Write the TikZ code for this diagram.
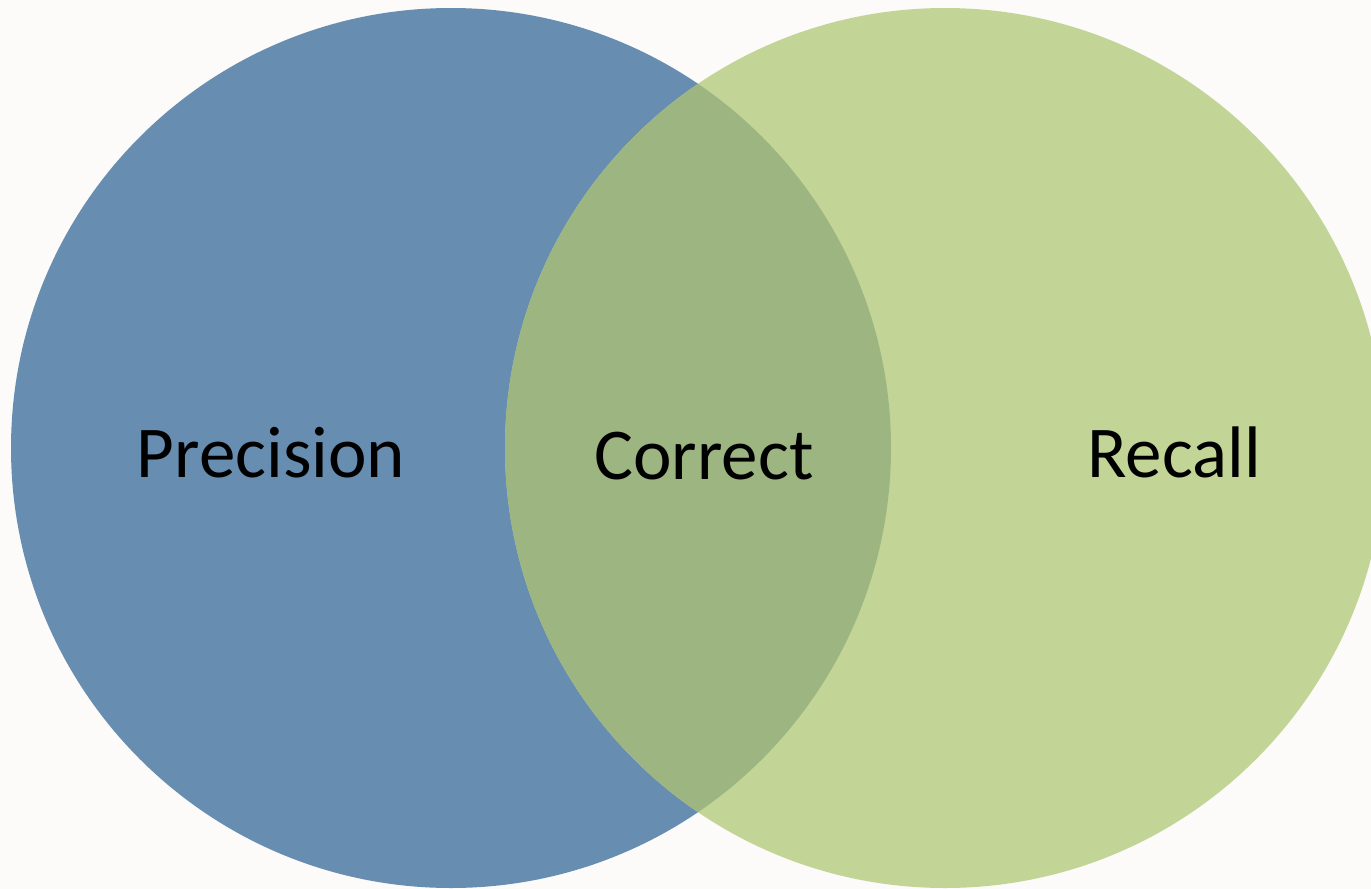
\documentclass[tikz,border=0pt]{standalone}
\usepackage{fontspec}
\setmainfont{Carlito}
\definecolor{bgc}{HTML}{FCFBFA}
\definecolor{precblue}{HTML}{678DB1}
\definecolor{recgreen}{HTML}{C2D596}
\definecolor{overlapc}{HTML}{9CB581}
\begin{document}
\begin{tikzpicture}[x=1pt,y=-1pt,
  lbl/.style={anchor=base,font=\fontsize{73}{80}\selectfont,text=black,inner sep=0pt}]
\useasboundingbox (0,0) rectangle (1371,889);
\fill[bgc] (0,0) rectangle (1371,889);
\begin{scope}
\clip (0,0) rectangle (1371,889);
\fill[precblue] (451,448) circle[radius=440];
\fill[recgreen] (945,448) circle[radius=440];
\begin{scope}
\clip (451,448) circle[radius=440];
\fill[overlapc] (945,448) circle[radius=440];
\end{scope}
\end{scope}
\node[lbl] (precision) at (271,477) {Precision};
\node[lbl] (correct) at (704,479) {Correct};
\node[lbl] (recall) at (1174,477) {Recall};
\end{tikzpicture}
\end{document}
